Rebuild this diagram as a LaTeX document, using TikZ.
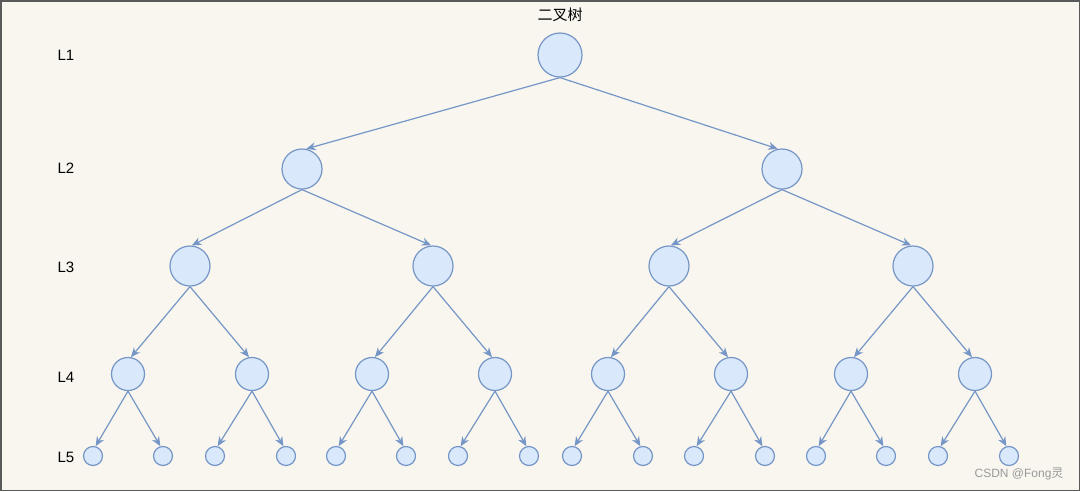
\documentclass[tikz,border=0pt]{standalone}
\usepackage{fontspec}
\setmainfont{Liberation Sans}
\newfontfamily\cjk{Noto Sans CJK SC}
\usetikzlibrary{arrows.meta}
\definecolor{bg}{HTML}{F8F6EE}
\definecolor{nfill}{HTML}{DAE8FC}
\definecolor{nline}{HTML}{7596C6}
\definecolor{frame}{HTML}{5A5A5A}
\begin{document}
\begin{tikzpicture}[x=1pt,y=-1pt,
  n1/.style={circle,draw=nline,fill=nfill,line width=1.2pt,minimum size=44pt,inner sep=0pt},
  n2/.style={n1,minimum size=40pt},
  n3/.style={n1,minimum size=40pt},
  n4/.style={n1,minimum size=33pt},
  n5/.style={n1,minimum size=19pt},
  lvl/.style={font=\fontsize{15}{17}\selectfont, text=black},
  edge/.style={draw=nline,line width=1.2pt,-{Stealth[length=9.5pt,width=8pt,inset=3pt]}}
]
\fill[bg] (0,0) rectangle (1080,491);
\draw[frame,line width=1.5pt] (0.75,0.75) rectangle (1079.25,490.25);
\useasboundingbox (0,0) rectangle (1080,491);

\node[font=\cjk\fontsize{15}{17}\selectfont] (title) at (560,15) {二叉树};

\node[lvl] (l1) at (66,55) {L1};
\node[lvl] (l2) at (66,168) {L2};
\node[lvl] (l3) at (66,267) {L3};
\node[lvl] (l4) at (66,377) {L4};
\node[lvl] (l5) at (66,457) {L5};

\node[n1] (a) at (560,55) {};
\node[n2] (b1) at (302,169) {};
\node[n2] (b2) at (782,169) {};
\foreach \i/\x in {1/190,2/433,3/669,4/913}
  \node[n3] (c\i) at (\x,266) {};
\foreach \i/\x in {1/128,2/252,3/372,4/495,5/608,6/731,7/851,8/975}
  \node[n4] (d\i) at (\x,374) {};
\foreach \i/\x in {1/93,2/163,3/215,4/286,5/336,6/406,7/458,8/529,9/572,10/643,11/694,12/765,13/816,14/886,15/938,16/1009}
  \node[n5] (e\i) at (\x,456) {};

\draw[edge] (a.south) -- (b1.78);
\draw[edge] (a.south) -- (b2.102);
\draw[edge] (b1.south) -- (c1.85);
\draw[edge] (b1.south) -- (c2.95);
\draw[edge] (b2.south) -- (c3.85);
\draw[edge] (b2.south) -- (c4.95);
\foreach \p/\l/\r in {1/1/2,2/3/4,3/5/6,4/7/8}{
  \draw[edge] (c\p.south) -- (d\l.80);
  \draw[edge] (c\p.south) -- (d\r.100);
}
\foreach \p/\l/\r in {1/1/2,2/3/4,3/5/6,4/7/8,5/9/10,6/11/12,7/13/14,8/15/16}{
  \draw[edge] (d\p.south) -- (e\l.75);
  \draw[edge] (d\p.south) -- (e\r.105);
}

\node[anchor=east,text=gray!80,font=\fontsize{12}{14}\selectfont] (wm) at (1067,474) {CSDN @Fong{\cjk 灵}};
\end{tikzpicture}
\end{document}
